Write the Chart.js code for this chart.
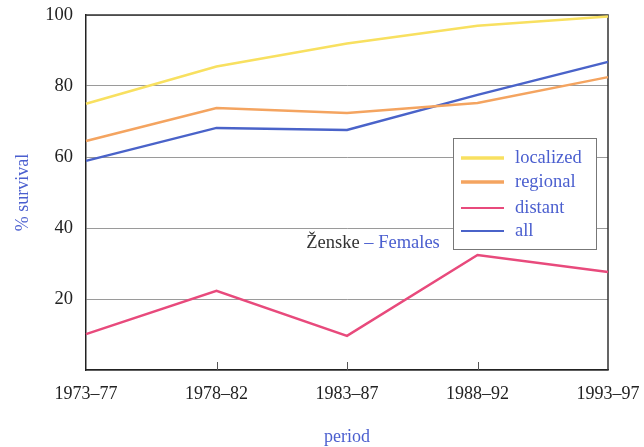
<!DOCTYPE html>
<html>
<head>
<meta charset="utf-8">
<script src="https://cdn.jsdelivr.net/npm/chart.js@4/dist/chart.umd.min.js"></script>
<style>
  html, body { margin: 0; padding: 0; background: #fff; }
  #wrap { width: 644px; height: 447px; }
</style>
</head>
<body>
<div id="wrap"><canvas id="survival"></canvas></div>
<script>
const periods = ['1973–77', '1978–82', '1983–87', '1988–92', '1993–97'];
const localized = [75, 85.5, 92, 97, 99.6];
const regional = [64.5, 73.8, 72.4, 75.2, 82.5];
const distant = [10.1, 22.3, 9.6, 32.4, 27.6];
const allStages = [58.9, 68.2, 67.6, 77.5, 86.8];
const yTicks = [20, 40, 60, 80, 100];

const serif = '"Liberation Serif", "DejaVu Serif", serif';
const blueText = '#4b5fcf';

// legend box and caption drawn inside the plot, like the original figure
const overlay = {
  id: 'overlay',
  afterDraw(chart) {
    const ctx = chart.ctx;
    const xs = chart.scales.x;
    ctx.save();
    // small inward ticks on the bottom axis
    ctx.strokeStyle = '#555';
    ctx.lineWidth = 1;
    for (let i = 1; i < periods.length - 1; i++) {
      const px = Math.round(xs.getPixelForTick(i)) + 0.5;
      ctx.beginPath();
      ctx.moveTo(px, chart.chartArea.bottom);
      ctx.lineTo(px, chart.chartArea.bottom - 8);
      ctx.stroke();
    }

    // caption
    ctx.font = '18.5px ' + serif;
    ctx.textBaseline = 'middle';
    const a = 'Ženske', b = ' – ', c = 'Females';
    const w = ctx.measureText(a + b + c).width;
    let tx = 373 - w / 2;
    ctx.fillStyle = '#333';
    ctx.fillText(a, tx, 243);
    tx += ctx.measureText(a).width;
    ctx.fillStyle = blueText;
    ctx.fillText(b + c, tx, 243);

    // legend
    const box = { x: 453.5, y: 138.5, w: 143, h: 111 };
    ctx.fillStyle = '#fff';
    ctx.fillRect(box.x, box.y, box.w, box.h);
    ctx.strokeStyle = '#777';
    ctx.lineWidth = 1;
    ctx.strokeRect(box.x, box.y, box.w, box.h);
    const rows = [158, 182, 208, 231];
    chart.data.datasets.forEach((ds, i) => {
      ctx.strokeStyle = ds.borderColor;
      ctx.lineWidth = i < 2 ? 3.5 : 2;
      ctx.beginPath();
      ctx.moveTo(461, rows[i]);
      ctx.lineTo(504, rows[i]);
      ctx.stroke();
      ctx.fillStyle = blueText;
      ctx.font = '18.5px ' + serif;
      ctx.fillText(ds.label, 515, rows[i]);
    });
    ctx.restore();
  }
};

new Chart(document.getElementById('survival'), {
  type: 'line',
  data: {
    labels: periods,
    datasets: [
      { label: 'localized', data: localized, borderColor: '#f8e060' },
      { label: 'regional', data: regional, borderColor: '#f4a460' },
      { label: 'distant', data: distant, borderColor: '#e84a7c' },
      { label: 'all', data: allStages, borderColor: '#4a63c9' }
    ]
  },
  options: {
    responsive: true,
    maintainAspectRatio: false,
    animation: false,
    devicePixelRatio: 1,
    layout: { padding: { top: 15, right: 36, left: 0, bottom: 0 } },
    elements: {
      line: { borderWidth: 2.5, tension: 0 },
      point: { radius: 0 }
    },
    plugins: {
      legend: { display: false },
      tooltip: { enabled: false }
    },
    scales: {
      x: {
        offset: false,
        grid: { display: false, drawTicks: false },
        border: { display: true, color: '#222', width: 1.5 },
        ticks: {
          color: '#222',
          padding: 13,
          maxRotation: 0,
          font: { family: serif, size: 18 }
        },
        title: {
          display: true,
          text: 'period',
          color: blueText,
          padding: { top: 0, bottom: -1 },
          font: { family: serif, size: 18 }
        },
        afterFit(scale) {
          scale.height = 77;
          scale.paddingLeft = 0;
          scale.paddingRight = 0;
        }
      },
      y: {
        min: 0,
        max: 100,
        afterBuildTicks(scale) {
          scale.ticks = [0].concat(yTicks).map(v => ({ value: v }));
        },
        grid: { color: '#9a9a9a', lineWidth: 1, drawTicks: false },
        border: { display: true, color: '#222', width: 1.5 },
        ticks: {
          color: '#222',
          padding: 13,
          font: { family: serif, size: 18.5 },
          callback: v => (v === 0 ? '' : v)
        },
        title: {
          display: true,
          text: '% survival',
          color: blueText,
          padding: { top: 12, bottom: 0 },
          font: { family: serif, size: 18 }
        },
        afterFit(scale) {
          scale.width = 86;
          scale.paddingTop = 0;
          scale.paddingBottom = 0;
        }
      }
    }
  },
  plugins: [overlay, {
    id: 'frame',
    beforeDatasetsDraw(chart) {
      const { left, right, top, bottom } = chart.chartArea;
      const ctx = chart.ctx;
      ctx.save();
      ctx.strokeStyle = '#333';
      ctx.lineWidth = 1.5;
      ctx.beginPath();
      ctx.moveTo(left, top);
      ctx.lineTo(right, top);
      ctx.lineTo(right, bottom);
      ctx.stroke();
      ctx.restore();
    }
  }]
});
</script>
</body>
</html>
